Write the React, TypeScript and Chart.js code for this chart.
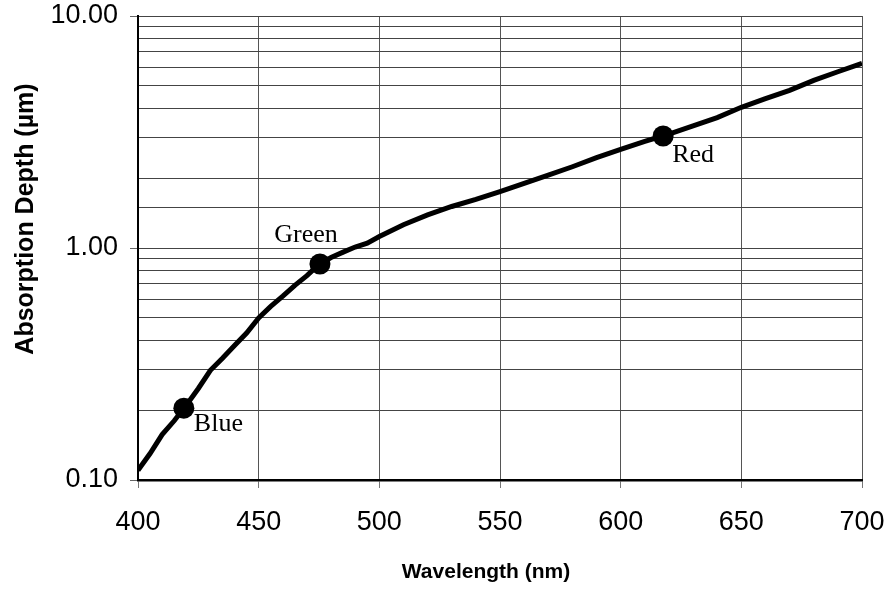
import React, { useEffect, useRef } from 'react';
import { Chart, registerables } from 'chart.js';

Chart.register(...registerables);

const wavelengths = [
  400, 405, 410, 415, 420, 425, 430, 435, 440, 445, 450, 455, 460, 465, 470, 475,
  480, 485, 490, 495, 500, 510, 520, 530, 540, 550, 560, 570, 580, 590, 600,
  610, 620, 630, 640, 650, 660, 670, 680, 690, 700,
];
const depths = [
  0.11, 0.13, 0.157, 0.18, 0.21, 0.248, 0.297, 0.335, 0.38, 0.43, 0.5, 0.56, 0.62, 0.69, 0.76, 0.85,
  0.91, 0.96, 1.01, 1.05, 1.12, 1.26, 1.39, 1.51, 1.62, 1.75, 1.9, 2.06, 2.24, 2.45, 2.66,
  2.88, 3.1, 3.36, 3.65, 4.04, 4.4, 4.78, 5.28, 5.75, 6.25,
];

const markerWavelengths = [419, 475.4, 617.6];
const markerDepths = [0.204, 0.853, 3.04];
const markerLabels = ['Blue', 'Green', 'Red'];

const xTickValues = [400, 450, 500, 550, 600, 650, 700];
const yMajorTicks = [0.1, 1, 10];
const yTickLabels = ['0.10', '1.00', '10.00'];

const xTitle = 'Wavelength (nm)';
const yTitle = 'Absorption Depth (µm)';

const majorIndex = (v: number) =>
  yMajorTicks.findIndex((m) => Math.abs(Math.log10(v) - Math.log10(m)) < 1e-6);

const zeroPadding = (scale: any) => {
  scale.paddingTop = 0;
  scale.paddingBottom = 0;
  scale.paddingLeft = 0;
  scale.paddingRight = 0;
};

const shiftTitle = (scale: any, dx: number, dy: number) => {
  if (!scale || scale.__shifted) return;
  const orig = scale.drawTitle.bind(scale);
  scale.drawTitle = function (...args: any[]) {
    const ctx = scale.ctx;
    ctx.save();
    ctx.translate(dx, dy);
    orig(...args);
    ctx.restore();
  };
  scale.__shifted = true;
};

const titleShiftPlugin = {
  id: 'titleShift',
  beforeDraw(chart: any) {
    shiftTitle(chart.scales.y, 0, -29);
    shiftTitle(chart.scales.x, -14, 0);
  },
};

const labelPlugin = {
  id: 'markerLabels',
  afterDatasetsDraw(chart: any) {
    const meta = chart.getDatasetMeta(1);
    const ctx = chart.ctx;
    const place: Record<string, { dx: number; dy: number; align: CanvasTextAlign }> = {
      Blue: { dx: 10, dy: 16, align: 'left' },
      Green: { dx: -14, dy: -29, align: 'center' },
      Red: { dx: 9, dy: 19, align: 'left' },
    };
    ctx.save();
    ctx.font = '26px "Liberation Serif", "Times New Roman", serif';
    ctx.fillStyle = '#000';
    ctx.textBaseline = 'middle';
    meta.data.forEach((el: any, i: number) => {
      const text = markerLabels[i];
      const p = place[text];
      ctx.textAlign = p.align;
      ctx.fillText(text, el.x + p.dx, el.y + p.dy);
    });
    ctx.restore();
  },
};

export default function App() {
  const ref = useRef<HTMLCanvasElement | null>(null);

  useEffect(() => {
    if (!ref.current) return;
    const chart = new Chart(ref.current, {
      type: 'line',
      data: {
        datasets: [
          {
            data: wavelengths.map((w, i) => ({ x: w, y: depths[i] })),
            borderColor: '#000',
            borderWidth: 5,
            pointRadius: 0,
            tension: 0,
            fill: false,
          },
          {
            data: markerWavelengths.map((w, i) => ({ x: w, y: markerDepths[i] })),
            showLine: false,
            pointRadius: 10.5,
            pointBackgroundColor: '#000',
            pointBorderColor: '#000',
            pointBorderWidth: 0,
          },
        ],
      },
      options: {
        animation: false,
        responsive: true,
        maintainAspectRatio: false,
        layout: { padding: { left: 0, top: 16, right: 25, bottom: 0 } },
        plugins: { legend: { display: false }, tooltip: { enabled: false } },
        scales: {
          x: {
            type: 'linear',
            min: 400,
            max: 700,
            afterBuildTicks: (scale: any) => {
              scale.ticks = xTickValues.map((v) => ({ value: v }));
            },
            afterFit: (scale: any) => {
              scale.height = 110;
              zeroPadding(scale);
            },
            ticks: {
              padding: 18,
              color: '#000',
              font: { family: '"Liberation Sans", Arial, sans-serif', size: 27 },
              maxRotation: 0,
              autoSkip: false,
            },
            grid: { color: '#555', lineWidth: 1, tickLength: 8, tickColor: '#777' },
            border: { color: '#000', width: 2.5 },
            title: {
              display: true,
              text: xTitle,
              color: '#000',
              font: { family: '"Liberation Sans", Arial, sans-serif', size: 21, weight: 'bold' },
              padding: { top: 0, bottom: 5 },
            },
          },
          y: {
            type: 'logarithmic',
            min: 0.1,
            max: 10,
            afterFit: (scale: any) => {
              scale.width = 138;
              zeroPadding(scale);
            },
            ticks: {
              autoSkip: false,
              padding: 12,
              color: '#000',
              font: { family: '"Liberation Sans", Arial, sans-serif', size: 27 },
              callback: (value: any) => {
                const i = majorIndex(Number(value));
                return i >= 0 ? yTickLabels[i] : '';
              },
            },
            grid: {
              color: '#444',
              lineWidth: 1,
              tickLength: 8,
              tickColor: (c: any) =>
                c.tick && majorIndex(c.tick.value) >= 0 ? '#666' : 'rgba(0,0,0,0)',
            },
            border: { color: '#000', width: 2 },
            title: {
              display: true,
              text: yTitle,
              color: '#000',
              font: { family: '"Liberation Sans", Arial, sans-serif', size: 25, weight: 'bold' },
              padding: { top: 11, bottom: 0 },
            },
          },
        },
      } as any,
      plugins: [titleShiftPlugin, labelPlugin],
    });
    return () => chart.destroy();
  }, []);

  return (
    <div style={{ position: 'absolute', left: 0, top: 0, width: 887, height: 590, background: '#fff' }}>
      <canvas ref={ref} />
    </div>
  );
}
